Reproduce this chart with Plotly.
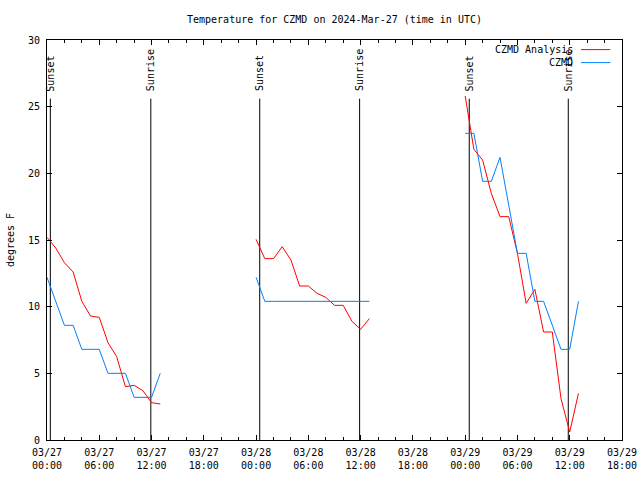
import plotly.graph_objects as go
from datetime import datetime, timedelta

# ---- data ----
start = "2024-03-27 00:00"
analysis_hours = [0, 1, 2, 3, 4, 5, 6, 7, 8, 9, 10, 11, 12, 13, None,
                  24, 25, 26, 27, 28, 29, 30, 31, 32, 33, 34, 35, 36, 37, None,
                  48, 49, 50, 51, 52, 53, 54, 55, 56, 57, 58, 59, 60, 61]
analysis_vals = [15.2, 14.4, 13.3, 12.6, 10.4, 9.3, 9.2, 7.3, 6.25, 4.0, 4.1, 3.7, 2.8, 2.7, None,
                 15.05, 13.6, 13.6, 14.5, 13.5, 11.55, 11.55, 11.0, 10.7, 10.1, 10.1, 8.9, 8.3, 9.1, None,
                 25.8, 21.8, 21.0, 18.5, 16.75, 16.75, 14.0, 10.25, 11.3, 8.1, 8.1, 3.1, 0.6, 3.5]
obs_hours = analysis_hours
obs_vals = [12.2, 10.4, 8.6, 8.6, 6.8, 6.8, 6.8, 5.0, 5.0, 5.0, 3.2, 3.2, 3.2, 5.0, None,
            12.2, 10.4, 10.4, 10.4, 10.4, 10.4, 10.4, 10.4, 10.4, 10.4, 10.4, 10.4, 10.4, 10.4, None,
            23.0, 23.0, 19.4, 19.4, 21.2, 17.6, 14.0, 14.0, 10.4, 10.4, 8.6, 6.8, 6.8, 10.4]
sun_times = ["2024-03-27 00:23", "2024-03-27 11:55", "2024-03-28 00:25",
             "2024-03-28 11:53", "2024-03-29 00:28", "2024-03-29 11:50"]
sun_labels = ["Sunset", "Sunrise", "Sunset", "Sunrise", "Sunset", "Sunrise"]
tick_times = ["2024-03-27 00:00", "2024-03-27 06:00", "2024-03-27 12:00", "2024-03-27 18:00",
              "2024-03-28 00:00", "2024-03-28 06:00", "2024-03-28 12:00", "2024-03-28 18:00",
              "2024-03-29 00:00", "2024-03-29 06:00", "2024-03-29 12:00", "2024-03-29 18:00"]
tick_labels = ["03/27<br>00:00", "03/27<br>06:00", "03/27<br>12:00", "03/27<br>18:00",
               "03/28<br>00:00", "03/28<br>06:00", "03/28<br>12:00", "03/28<br>18:00",
               "03/29<br>00:00", "03/29<br>06:00", "03/29<br>12:00", "03/29<br>18:00"]
series_names = ["CZMD Analysis", "CZMD"]
series_colors = ["#ff0000", "#0080ff"]

t0 = datetime.strptime(start, "%Y-%m-%d %H:%M")


def to_times(hours):
    return [None if h is None else t0 + timedelta(hours=h) for h in hours]


FONT = "DejaVu Sans Mono"
fig = go.Figure()

# sunrise / sunset lines
for t, lab in zip(sun_times, sun_labels):
    fig.add_trace(go.Scatter(x=[t, t], y=[0, 25.6], mode="lines",
                             line=dict(color="black", width=1),
                             showlegend=False, hoverinfo="skip"))
    fig.add_annotation(x=t, y=26.0, xref="x", yref="y", text=lab, textangle=-90,
                       showarrow=False, xanchor="center", yanchor="bottom",
                       font=dict(family=FONT, size=10, color="black"))

fig.add_trace(go.Scatter(x=to_times(analysis_hours), y=analysis_vals, mode="lines",
                         name=series_names[0], line=dict(color=series_colors[0], width=1),
                         connectgaps=False, showlegend=False))
fig.add_trace(go.Scatter(x=to_times(obs_hours), y=obs_vals, mode="lines",
                         name=series_names[1], line=dict(color=series_colors[1], width=1),
                         connectgaps=False, showlegend=False))

# gnuplot-style legend (text right, sample on right)
for i, (nm, col) in enumerate(zip(series_names, series_colors)):
    yp = 0.976 - i * 0.0325
    fig.add_annotation(x=0.9177, y=yp, xref="paper", yref="paper", text=nm,
                       showarrow=False, xanchor="right", yanchor="middle",
                       font=dict(family=FONT, size=10, color="black"))
    fig.add_shape(type="line", xref="paper", yref="paper", x0=0.9287, x1=0.9797,
                  y0=yp, y1=yp, line=dict(color=col, width=1))

fig.update_layout(
    width=640, height=480,
    margin=dict(l=47, r=18, t=40, b=40, autoexpand=False),
    paper_bgcolor="white", plot_bgcolor="white",
    font=dict(family=FONT, size=10, color="black"),
    title=dict(text="Temperature for CZMD on 2024-Mar-27 (time in UTC)",
               x=0.5, xref="paper", y=1 - 19 / 480, yref="container",
               yanchor="middle", xanchor="center",
               font=dict(family=FONT, size=10, color="black")),
    showlegend=False,
)
fig.update_xaxes(type="date", range=[tick_times[0], tick_times[-1]], automargin=False,
                 tickmode="array", tickvals=tick_times, ticktext=tick_labels,
                 showgrid=False, zeroline=False, showline=True, linecolor="black",
                 linewidth=1, mirror="ticks", ticks="inside", ticklen=5, tickcolor="black",
                 ticklabelstandoff=3,
                 minor=dict(dtick=2 * 3600000, ticks="inside", ticklen=3, tickcolor="black",
                            showgrid=False),
                 tickfont=dict(family=FONT, size=10))
fig.update_yaxes(range=[0, 30], dtick=5, tick0=0, automargin=False,
                 showgrid=False, zeroline=False, showline=True, linecolor="black",
                 linewidth=1, mirror="ticks", ticks="inside", ticklen=5, tickcolor="black",
                 ticklabelstandoff=4,
                 tickfont=dict(family=FONT, size=10),
                 title=dict(text="degrees F", standoff=11,
                            font=dict(family=FONT, size=10)))

fig.write_html("out.html", config={"displayModeBar": False},
               post_script="document.body.style.margin='0';document.body.style.padding='0';")
